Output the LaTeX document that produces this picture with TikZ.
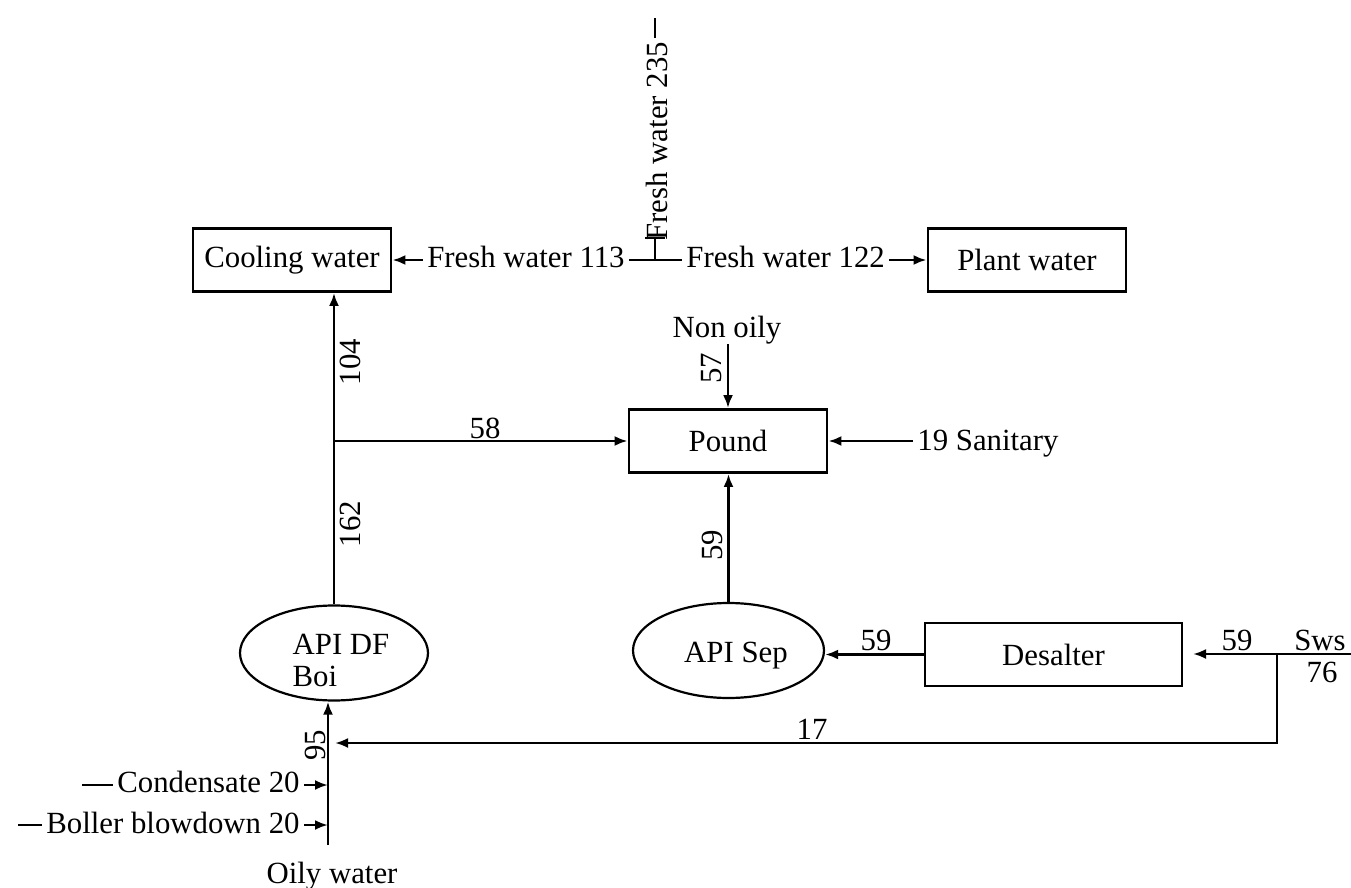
\documentclass[tikz,border=0pt]{standalone}
\usepackage{fontspec}
\setmainfont{Liberation Serif}
\usetikzlibrary{arrows.meta,shapes.geometric}
\begin{document}
\begin{tikzpicture}[x=0.5pt,y=-0.5pt,
  font=\fontsize{15.4}{18}\selectfont,
  every node/.style={inner sep=0pt},
  lbl/.style={inner xsep=2pt, inner ysep=0pt},
  unitbox/.style={draw, line width=1.4pt, minimum width=99pt, minimum height=31.5pt},
  unitell/.style={draw, ellipse, line width=1.1pt, minimum width=94pt, minimum height=47.5pt},
  flow/.style={line width=1.3pt},
  arr/.style={flow, -{Latex[length=6.5pt,width=5pt]}},
  num/.style={rotate=90}]
\useasboundingbox (0,0) rectangle (1351,888);

% units
\node[unitbox] (cw) at (292,260) {Cooling water};
\node[unitbox] (pw) at (1027,260) {Plant water};
\node[unitbox] (pound) at (728,441) {Pound};
\node[unitbox, minimum width=128.5pt] (desalter) at (1053.5,654.5) {Desalter};
\node[unitell] (apidf) at (334,653) {};
\node[align=left, font=\fontsize{15.4}{16}\selectfont] (apidftxt) at (341,660) {API DF\\Boi};
\node[unitell, minimum width=95.5pt] (apisep) at (728.5,650.5) {};
\node (apiseptxt) at (736,656) {API Sep};

% fresh water distribution
\coordinate (J) at (655,260);
\coordinate (Jt) at (655,238);
\coordinate (Jl) at (645,238);
\coordinate (Jr) at (665,238);
\coordinate (d235a) at (655,38);
\coordinate (d235) at (655,18);
\node[lbl, anchor=base east] (fw113) at (629,268) {Fresh water 113};
\node[lbl, anchor=base west] (fw122) at (682,268) {Fresh water 122};
\node[num, anchor=base west] (fw235) at (667,241) {Fresh water 235};
\draw[flow] (fw113.east |- J) -- (fw122.west |- J);
\draw[flow] (J) -- (Jt);
\draw[flow] (Jl) -- (Jr);
\draw[flow] (d235a) -- (d235);
\draw[arr] (fw113.west |- J) -- (cw.east);
\draw[arr] (fw122.east |- J) -- (pw.west);

% pound inputs
\node[anchor=base] (nonoily) at (727,337) {Non oily};
\draw[arr] (nonoily.south -| pound.north) -- (pound.north);
\node[num] (n57) at (712,368) {57};
\node[lbl, anchor=base west] (san) at (913,450) {19 Sanitary};
\draw[arr] (san.west |- pound.east) -- (pound.east);

% main riser
\draw[arr] (apidf.north) -- (apidf.north |- cw.south);
\coordinate (B) at (apidf.north |- pound.west);
\draw[arr] (B) -- (pound.west);
\node[num] (n104) at (350,362) {104};
\node[num] (n162) at (350,524) {162};
\node (n58) at (485,428) {58};

% API Sep to pound
\draw[arr] (apisep.north) -- (apisep.north |- pound.south);
\node[num] (n59a) at (712,545) {59};

% desalter
\draw[arr] (desalter.west) -- (desalter.west -| apisep.east);
\node (n59b) at (876,640) {59};

% sour water
\coordinate (swsin) at (1351,654);
\coordinate (Dtip) at (1193,654);
\coordinate (K) at (1277,654);
\coordinate (Kd) at (1277,743);
\coordinate (L) at (335,743);
\draw[arr] (swsin) -- (Dtip);
\draw[arr] (K) -- (Kd) -- (L);
\node (n59c) at (1237,640) {59};
\node (sws) at (1320,640) {Sws};
\node (n76) at (1322,672) {76};
\node (n17) at (812,729) {17};

% oily water inlet
\coordinate (ow) at (328,845);
\draw[arr] (ow) -- (ow |- apidf.south);
\node[num] (n95) at (315,745) {95};
\coordinate (cd) at (82,785);
\node[lbl, anchor=base east] (cond) at (304,792) {Condensate 20};
\draw[flow] (cd) -- (cond.west |- cd);
\draw[arr] (cond.east |- cd) -- (cd -| ow);
\coordinate (bd) at (18,825);
\node[lbl, anchor=base east] (boil) at (304,833) {Boller blowdown 20};
\draw[flow] (bd) -- (boil.west |- bd);
\draw[arr] (boil.east |- bd) -- (bd -| ow);
\node[anchor=base] (oily) at (332,883) {Oily water};
\end{tikzpicture}
\end{document}
